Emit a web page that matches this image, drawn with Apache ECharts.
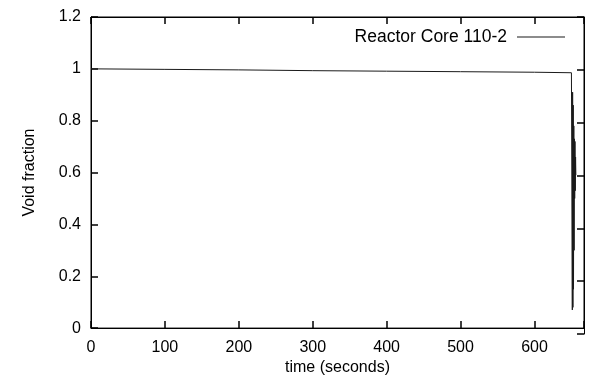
<!DOCTYPE html>
<html>
<head>
<meta charset="utf-8">
<script src="https://cdn.jsdelivr.net/npm/echarts@6/dist/echarts.min.js"></script>
<style>html,body{margin:0;padding:0;background:#fff}#c{width:590px;height:381px}</style>
</head>
<body>
<div id="c"></div>
<script>
// Data
const seriesName = "Reactor Core 110-2";
const timeSec = [0, 100, 200, 300, 400, 500, 600, 650, 651,
  651.2, 651.6, 652.0, 652.4, 652.8, 653.2, 653.6, 654.0,
  654.4, 654.8, 655.2, 655.6, 656.0];
const voidFraction = [1.0, 0.998, 0.996, 0.993, 0.991, 0.989, 0.987, 0.985, 0.985,
  0.07, 0.91, 0.08, 0.86, 0.15, 0.78, 0.3, 0.73,
  0.5, 0.72, 0.53, 0.66, 0.59];
const xTicks = [0, 100, 200, 300, 400, 500, 600];
const yTicks = [0, 0.2, 0.4, 0.6, 0.8, 1, 1.2];
const xLabel = "time (seconds)";
const yLabel = "Void fraction";

const font = "Liberation Sans";
const xMax = 667;
const chart = echarts.init(document.getElementById('c'));
const gridBox = {left: 91, right: 6, top: 17, bottom: 47};
function tick() { return {show: true, inside: true, length: 7, lineStyle: {color: '#000', width: 1.5}}; }
function line() { return {show: true, onZero: false, lineStyle: {color: '#000'}}; }
chart.setOption({
  animation: false,
  backgroundColor: '#fff',
  textStyle: {fontFamily: font},
  grid: [
    Object.assign({show: true, borderColor: '#000', borderWidth: 1, backgroundColor: 'rgba(0,0,0,0)'}, gridBox),
    Object.assign({show: false}, gridBox)
  ],
  legend: {
    show: true, right: 20, top: 23, align: 'right', itemWidth: 48, itemHeight: 1,
    textStyle: {fontFamily: font, fontSize: 17.5, color: '#000', padding: [0, 5, 0, 0]},
    data: [{name: seriesName, icon: 'rect'}]
  },
  xAxis: [{
    gridIndex: 0, type: 'value', min: xTicks[0], max: xMax, interval: 100,
    axisLine: line(), axisTick: tick(), splitLine: {show: false},
    name: xLabel, nameLocation: 'middle', nameGap: 27,
    nameTextStyle: {fontFamily: font, fontSize: 16, color: '#000'},
    axisLabel: {margin: 11, fontFamily: font, fontSize: 16, color: '#000',
      formatter: v => xTicks.includes(v) ? String(v) : ''}
  }, {
    gridIndex: 1, type: 'value', position: 'top', min: xTicks[0], max: xMax, interval: 100,
    axisLine: line(), axisTick: tick(), splitLine: {show: false},
    axisLabel: {show: false}
  }],
  yAxis: [{
    gridIndex: 0, type: 'value', min: yTicks[0], max: yTicks[yTicks.length - 1], interval: 0.2,
    axisLine: line(), axisTick: tick(), splitLine: {show: false},
    name: yLabel, nameLocation: 'middle', nameGap: 53,
    nameTextStyle: {fontFamily: font, fontSize: 16, color: '#000'},
    axisLabel: {margin: 10, fontFamily: font, fontSize: 16, color: '#000',
      formatter: v => String(Math.round(v * 10) / 10)}
  }, {
    gridIndex: 1, type: 'value', position: 'right', min: yTicks[0], max: yTicks[yTicks.length - 1], interval: 0.2,
    axisLine: line(), axisTick: tick(), splitLine: {show: false},
    axisLabel: {show: false}
  }],
  series: [{
    name: seriesName, type: 'line', symbol: 'none', xAxisIndex: 0, yAxisIndex: 0,
    lineStyle: {color: '#1a1a1a', width: 1}, itemStyle: {color: '#1a1a1a'},
    data: timeSec.map((t, i) => [t, voidFraction[i]])
  }]
});
</script>
</body>
</html>
